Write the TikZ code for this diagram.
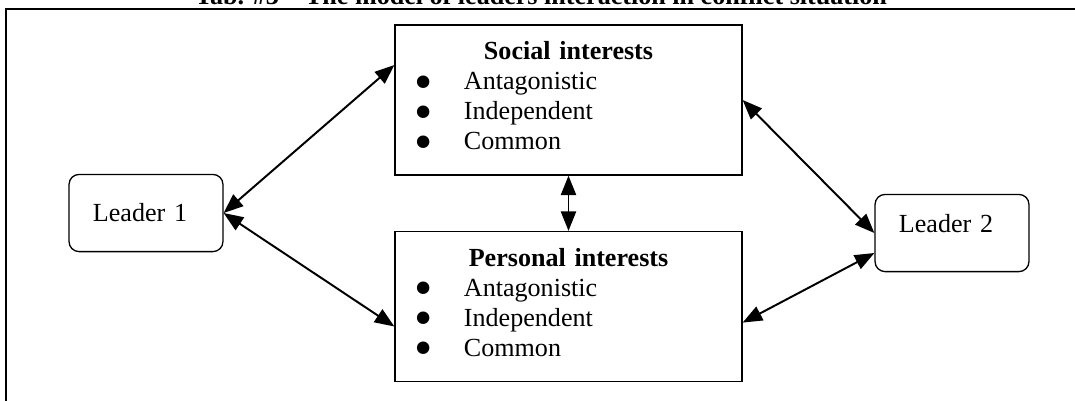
\documentclass[tikz,border=0pt]{standalone}
\usepackage{fontspec}
\setmainfont{Liberation Serif}
\usetikzlibrary{arrows.meta}
\newcommand{\interestitem}[1]{\hspace*{9pt}\makebox[22.7pt][l]{\raisebox{-4.4pt}[0pt][0pt]{\fontsize{24}{24}\selectfont\textbullet}}#1}
\begin{document}
\fontsize{12}{13.8}\selectfont
\begin{tikzpicture}[x=0.46pt,y=-0.46pt,
    interestbox/.style={draw,line width=0.6pt,minimum width=159.6pt,minimum height=69pt,
      text width=159.6pt,inner sep=0pt,align=left},
    leaderbox/.style={draw,line width=0.6pt,rounded corners=4.6pt,minimum width=70.8pt,
      minimum height=35.5pt,text width=48.8pt,inner xsep=11pt,inner ysep=0pt,align=left,
      text height=8.5pt},
    link/.style={line width=0.9pt,{Triangle[length=9pt,width=7pt]}-{Triangle[length=9pt,width=7pt]}}]
        \useasboundingbox (0,0) rectangle (1075,400);
        \draw[line width=0.9pt] (6,420) -- (6,9) -- (1090,9);
        \node[font=\bfseries,anchor=base,inner sep=0pt] (title) at (541,4)
            {Tab. \#3 -- The model of leaders interaction in conflict situation};
        \node[interestbox] (social) at (568.5,100)
            {\hfill\textbf{Social interests}\hfill\null\\
             \interestitem{Antagonistic}\\
             \interestitem{Independent}\\
             \interestitem{Common}\strut};
        \node[interestbox] (personal) at (568.5,306.5)
            {\hfill\textbf{Personal interests}\hfill\null\\
             \interestitem{Antagonistic}\\
             \interestitem{Independent}\\
             \interestitem{Common}\strut};
        \node[leaderbox,text depth=1.1pt] (lead1) at (146,213) {Leader 1};
        \node[leaderbox,text depth=9.4pt] (lead2) at (952,233) {Leader 2};
        \draw[link] (lead1.east) -- ([yshift=16.1pt]social.west);
        \draw[link] (lead1.east) -- ([yshift=-9.2pt]personal.west);
        \draw[link] (social.south) -- (personal.north);
        \draw[link] (social.east) -- (lead2.west);
        \draw[link] ([yshift=-7.4pt]personal.east) -- ([yshift=-9.2pt]lead2.west);
\end{tikzpicture}
\end{document}
